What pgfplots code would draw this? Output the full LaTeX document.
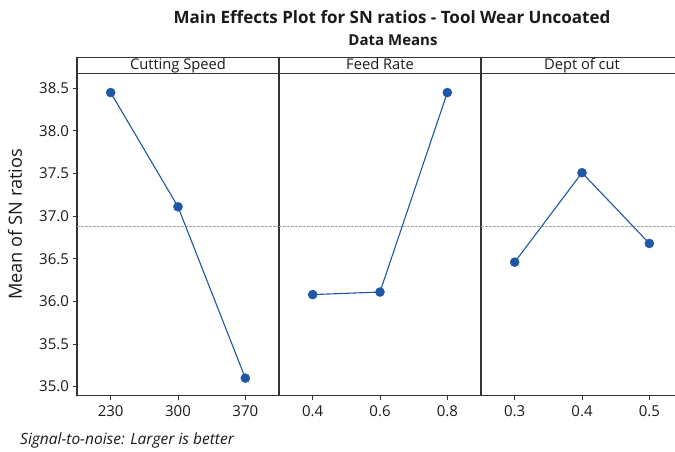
\documentclass[border=0pt]{standalone}
\usepackage{pgfplots}
\pgfplotsset{compat=1.18}
\usepackage{fontspec}
\setmainfont{Open Sans}
\definecolor{mblue}{HTML}{1F56A6}
\definecolor{frame}{HTML}{333333}
\definecolor{reflin}{HTML}{A8A8A8}
\definecolor{txt}{HTML}{1A1A1A}
\pgfplotsset{
  panel/.style={
    scale only axis, width=202pt, height=322.4pt,
    anchor=south west,
    xmin=0.5, xmax=3.5, ymin=34.894, ymax=38.676,
    xtick={1,2,3},
    axis line style={draw=frame, line width=1.2pt},
    tick style={draw=frame, line width=1pt},
    major tick length=4.5pt,
    tick align=outside,
    xtick pos=left, ytick pos=left,
    /pgf/number format/assume math mode=true,
    tick label style={font=\fontsize{15}{18}\selectfont, text=txt},
    xticklabel style={yshift=-2pt},
    clip=false,
  },
  pts/.style={mblue, line width=1.1pt, mark=*, mark size=4.6pt, mark options={fill=mblue, draw=mblue, line width=0.3pt}},
  ref/.style={reflin, line width=0.9pt, dash pattern=on 2.5pt off 1.5pt},
}
\begin{document}
\begin{tikzpicture}[x=1pt,y=1pt]
\useasboundingbox (0,0) rectangle (675,452);
% panel 1
\begin{axis}[panel, at={(77pt,56.3pt)},
  xticklabels={230,300,370},
  ytick={35,35.5,36,36.5,37,37.5,38,38.5},
  yticklabel style={/pgf/number format/.cd, fixed, fixed zerofill, precision=1},
]
\addplot[ref] coordinates {(0.5,36.885) (3.5,36.885)};
\addplot[pts] coordinates {(1,38.45) (2,37.11) (3,35.10)};
\end{axis}
% panel 2
\begin{axis}[panel, at={(279pt,56.3pt)},
  xticklabels={0.4,0.6,0.8}, ytick=\empty,
]
\addplot[ref] coordinates {(0.5,36.885) (3.5,36.885)};
\addplot[pts] coordinates {(1,36.08) (2,36.11) (3,38.45)};
\end{axis}
% panel 3
\begin{axis}[panel, at={(481pt,56.3pt)},
  xticklabels={0.3,0.4,0.5}, ytick=\empty,
]
\addplot[ref] coordinates {(0.5,36.885) (3.5,36.885)};
\addplot[pts] coordinates {(1,36.46) (2,37.51) (3,36.68)};
\end{axis}
% header strip
\draw[frame, line width=1.2pt] (77,378.7) rectangle (683,394.7);
\draw[frame, line width=1.2pt] (279,378.7) -- (279,394.7);
\draw[frame, line width=1.2pt] (481,378.7) -- (481,394.7);
\node[anchor=base, text=txt, font=\fontsize{14.7}{16}\selectfont] at (178,382.3) {Cutting Speed};
\node[anchor=base, text=txt, font=\fontsize{14.7}{16}\selectfont] at (380,382.3) {Feed Rate};
\node[anchor=base, text=txt, font=\fontsize{14.7}{16}\selectfont] at (582,382.3) {Dept of cut};
% titles
\node[anchor=base, text=txt, font=\fontsize{17}{20}\selectfont\bfseries] at (392,428.7) {Main Effects Plot for SN ratios - Tool Wear Uncoated};
\node[anchor=base, text=txt, font=\fontsize{15}{18}\selectfont\bfseries] at (393,406) {Data Means};
% y label
\node[rotate=90, text=txt, font=\fontsize{18.2}{20}\selectfont] at (15,227.5) {Mean of SN ratios};
% footnote
\node[anchor=base west, inner sep=0pt, text=txt, font=\fontsize{15.5}{17}\selectfont\itshape] at (20,7) {Signal-to-noise: Larger is better};
\end{tikzpicture}
\end{document}
